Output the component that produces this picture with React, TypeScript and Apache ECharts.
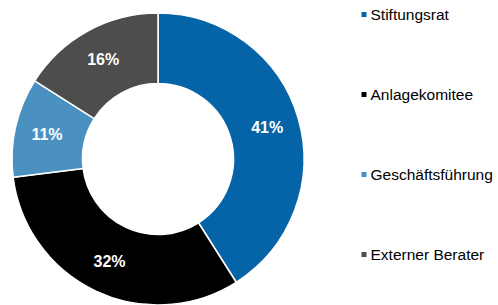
import React, { useEffect, useRef } from "react";
import * as echarts from "echarts";

const categories = ["Stiftungsrat", "Anlagekomitee", "Geschäftsführung", "Externer Berater"];
const values = [41, 32, 11, 16];
const colors = ["#0564A8", "#000000", "#4A91C2", "#4D4D4D"];

export default function App() {
  const ref = useRef<HTMLDivElement>(null);
  useEffect(() => {
    document.body.style.margin = "0";
    const chart = echarts.init(ref.current!, undefined, { renderer: "svg" });
    const font = "'Liberation Sans', Arial, sans-serif";
    chart.setOption({
      animation: false,
      color: colors,
      legend: {
        orient: "vertical",
        left: 361.5,
        top: 4.5,
        padding: 0,
        itemWidth: 5,
        itemHeight: 5,
        itemGap: 60,
        icon: "rect",
        itemStyle: { borderWidth: 0 },
        data: categories,
        textStyle: { fontSize: 15.5, lineHeight: 20, color: "#000", fontFamily: font, padding: [0, 0, 0, -1] },
      },
      series: [
        {
          type: "pie",
          center: [158, 159],
          radius: [75.5, 146],
          startAngle: 90,
          clockwise: true,
          avoidLabelOverlap: false,
          itemStyle: { borderColor: "#fff", borderWidth: 1.5 },
          label: {
            show: true,
            position: "inside",
            formatter: "{c}%",
            color: "#fff",
            fontWeight: "bold",
            fontSize: 16,
            fontFamily: font,
          },
          labelLine: { show: false },
          emphasis: { disabled: true },
          data: categories.map((name, i) => ({ name, value: values[i] })),
        },
      ],
    });
    return () => chart.dispose();
  }, []);
  return <div ref={ref} style={{ width: 498, height: 305 }} />;
}
